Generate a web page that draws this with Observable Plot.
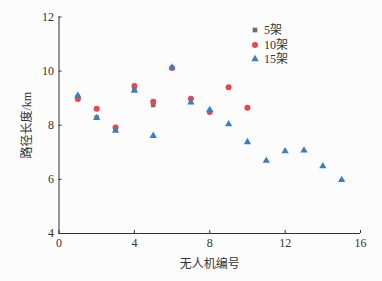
<!DOCTYPE html>
<html><head><meta charset="utf-8">
<script src="https://cdn.jsdelivr.net/npm/d3@7"></script>
<script src="https://cdn.jsdelivr.net/npm/@observablehq/plot@0.6"></script>
<style>
body{margin:0;background:#fcfcfc;}
#wrap{position:relative;width:382px;height:281px;font-family:"Liberation Serif","Noto Sans CJK SC",serif;}
#legend{position:absolute;left:250px;top:23px;font-size:12px;color:#333;line-height:14.5px;}
#legend div{display:flex;align-items:center;}
#legend svg{margin-right:4px;}
</style></head><body>
<div id="wrap"><div id="legend"></div></div>
<script>
const ids = [1,2,3,4,5,6,7,8,9,10,11,12,13,14,15];
const series = ["5架","10架","15架"];
const v5 = [9.05, 8.28, 7.84, 9.33, 8.75];
const v10 = [8.97, 8.61, 7.92, 9.45, 8.87, 10.12, 8.98, 8.49, 9.40, 8.65];
const v15 = [9.09, 8.27, 7.80, 9.28, 7.61, 10.14, 8.84, 8.57, 8.04, 7.38, 6.69, 7.04, 7.07, 6.49, 5.98];
const xTicks = [0,4,8,12,16];
const yTicks = [4,6,8,10,12];
const colors = ["#6e6e6e","#e8474a","#3a7fc3"];

const data = [];
[v5,v10,v15].forEach((arr,si)=>arr.forEach((v,i)=>data.push({id:ids[i], v, s:series[si]})));

const font = '"Liberation Serif","Noto Sans CJK SC",serif';
const chart = Plot.plot({
  width:382, height:281,
  marginLeft:58.5, marginRight:22, marginTop:16.5, marginBottom:48,
  style:{fontFamily:font, fontSize:"12px", background:"transparent", color:"#333"},
  x:{domain:[0,16]},
  y:{domain:[4,12]},
  marks:[
    Plot.axisX({ticks:xTicks, tickSize:-3, tickPadding:8, label:"无人机编号", labelAnchor:"center", labelOffset:34, labelArrow:"none", fontSize:12}),
    Plot.axisY({ticks:yTicks, tickSize:-3, tickPadding:8, label:"路径长度/km", labelAnchor:"center", labelOffset:37, labelArrow:"none", fontSize:12}),
    Plot.ruleY([yTicks[0]], {stroke:"#333"}),
    Plot.ruleX([xTicks[0]], {stroke:"#333"}),
    Plot.dot(data.filter(d=>d.s===series[0]), {x:"id", y:"v", symbol:"square", fill:colors[0], r:2.6}),
    Plot.dot(data.filter(d=>d.s===series[1]), {x:"id", y:"v", symbol:"circle", fill:colors[1], r:3}),
    Plot.dot(data.filter(d=>d.s===series[2]), {x:"id", y:"v", symbol:"triangle", fill:colors[2], r:2.7})
  ]
});
document.getElementById("wrap").prepend(chart);

const leg = document.getElementById("legend");
series.forEach((s,i)=>{
  const row = document.createElement("div");
  const sym = d3.symbol(i===0?d3.symbolSquare:i===1?d3.symbolCircle:d3.symbolTriangle, i===0?22:i===1?28:24)();
  row.innerHTML = `<svg width="10" height="10" viewBox="-5 -5 10 10"><path d="${sym}" fill="${colors[i]}"/></svg><span>${s}</span>`;
  leg.appendChild(row);
});
</script>
</body></html>
